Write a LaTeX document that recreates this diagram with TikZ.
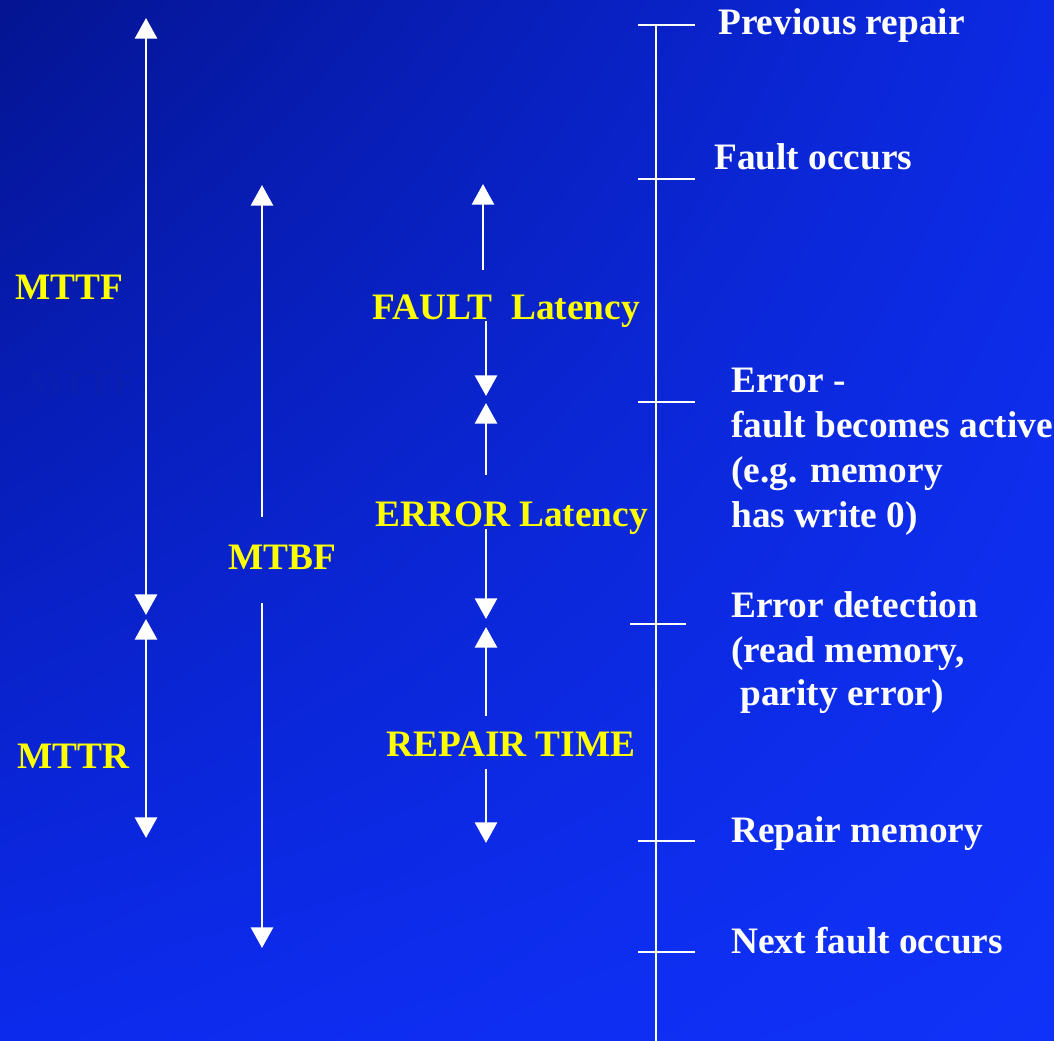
\documentclass[tikz,border=0pt]{standalone}
\usepackage{fontspec}
\setmainfont{Liberation Serif}
\usetikzlibrary{arrows.meta,shadings}
\definecolor{bgTL}{RGB}{4,20,145}
\definecolor{bgTR}{RGB}{12,42,228}
\definecolor{bgBL}{RGB}{12,42,236}
\definecolor{bgBR}{RGB}{16,50,248}
\definecolor{ghost}{RGB}{9,31,178}
\definecolor{lbl}{RGB}{255,255,0}
\begin{document}
\begin{tikzpicture}[x=0.75pt,y=-0.75pt,
  txt/.style={inner sep=0pt,anchor=base west,font=\fontsize{28}{33}\selectfont\bfseries},
  wtxt/.style={txt,text=white},
  ytxt/.style={txt,text=lbl},
  arr/.style={white,line width=2.2pt,-{Triangle[width=16.5pt,length=15.5pt]}},
  darr/.style={white,line width=2.2pt,{Triangle[width=16.5pt,length=15.5pt]}-{Triangle[width=16.5pt,length=15.5pt]}},
  tline/.style={white,line width=2pt}]
\useasboundingbox (0,0) rectangle (1054,1041);
\shade[upper left=bgTL,upper right=bgTR,lower left=bgBL,lower right=bgBR] (0,0) rectangle (1054,1041);

% ghost text
\node[txt,text=ghost] (ghost) at (27,396) {MTTF};

% timeline
\coordinate (tTop) at (656,25);
\coordinate (tBot) at (656,1041);
\draw[tline] (tTop) -- (tBot);
\coordinate (k1a) at (638,25);  \coordinate (k1b) at (695,25);
\coordinate (k2a) at (638,179); \coordinate (k2b) at (695,179);
\coordinate (k3a) at (638,402); \coordinate (k3b) at (695,402);
\coordinate (k4a) at (630,624); \coordinate (k4b) at (686,624);
\coordinate (k5a) at (638,841); \coordinate (k5b) at (695,841);
\coordinate (k6a) at (638,952); \coordinate (k6b) at (695,952);
\draw[tline] (k1a) -- (k1b);
\draw[tline] (k2a) -- (k2b);
\draw[tline] (k3a) -- (k3b);
\draw[tline] (k4a) -- (k4b);
\draw[tline] (k5a) -- (k5b);
\draw[tline] (k6a) -- (k6b);

% right texts
\node[wtxt] (prev) at (718,35) {Previous repair};
\node[wtxt] (fault) at (714,170) {Fault occurs};
\node[wtxt] (err1) at (731,393) {Error -};
\node[wtxt] (err2) at (731,438) {fault becomes active};
\node[wtxt] (err3) at (731,482) {(e.g. memory};
\node[wtxt] (err4) at (731,527) {has write 0)};
\node[wtxt] (det1) at (731,617) {Error detection};
\node[wtxt] (det2) at (731,662) {(read memory,};
\node[wtxt] (det3) at (740,705) {parity error)};
\node[wtxt] (rep) at (731,842) {Repair memory};
\node[wtxt] (next) at (731,953) {Next fault occurs};

% yellow labels
\node[ytxt] (mttf) at (15,300) {MTTF};
\node[ytxt] (mtbf) at (228,569) {MTBF};
\node[ytxt] (mttr) at (17,768) {MTTR};
\node[ytxt] (flat) at (372,320) {FAULT\ \ Latency};
\node[ytxt] (elat) at (375,526) {ERROR Latency};
\node[ytxt] (rtime) at (386,756) {REPAIR TIME};

% arrows
\coordinate (mttfT) at (146,18);  \coordinate (mttfB) at (146,615);
\coordinate (mttrT) at (146,619); \coordinate (mttrB) at (146,838);
\draw[darr] (mttfT) -- (mttfB);
\draw[darr] (mttrT) -- (mttrB);

\coordinate (mbU0) at (262,517); \coordinate (mbU1) at (262,185);
\coordinate (mbD0) at (262,603); \coordinate (mbD1) at (262,948);
\draw[arr] (mbU0) -- (mbU1);
\draw[arr] (mbD0) -- (mbD1);

\coordinate (flU0) at (483,270); \coordinate (flU1) at (483,184);
\coordinate (flD0) at (486,321); \coordinate (flD1) at (486,396);
\draw[arr] (flU0) -- (flU1);
\draw[arr] (flD0) -- (flD1);

\coordinate (elU0) at (486,475); \coordinate (elU1) at (486,403);
\coordinate (elD0) at (486,529); \coordinate (elD1) at (486,619);
\draw[arr] (elU0) -- (elU1);
\draw[arr] (elD0) -- (elD1);

\coordinate (rtU0) at (486,716); \coordinate (rtU1) at (486,627);
\coordinate (rtD0) at (486,769); \coordinate (rtD1) at (486,843);
\draw[arr] (rtU0) -- (rtU1);
\draw[arr] (rtD0) -- (rtD1);
\end{tikzpicture}
\end{document}
